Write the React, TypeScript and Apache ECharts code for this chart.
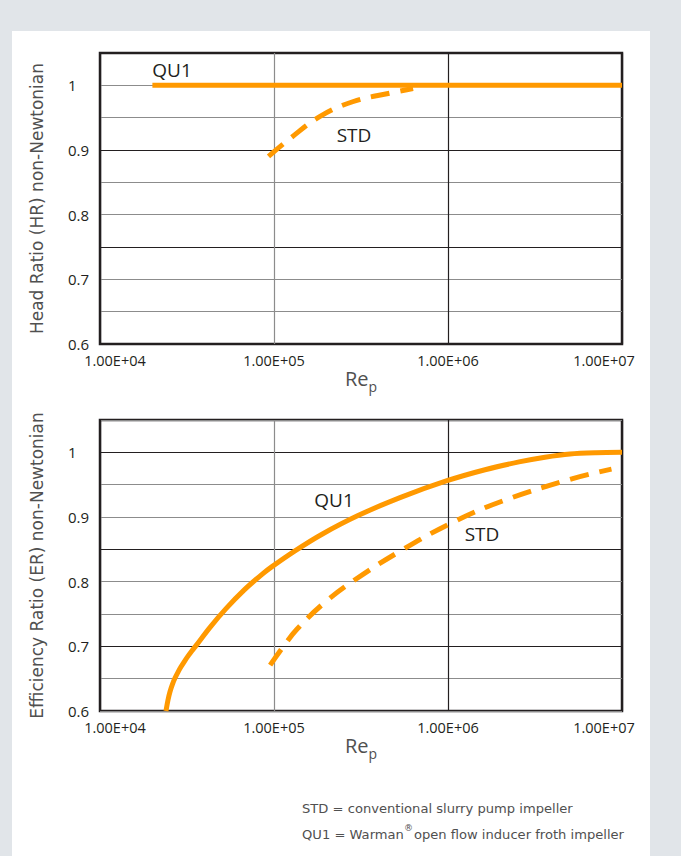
import React, { useEffect, useRef } from 'react';
import * as echarts from 'echarts';

// X ticks (log scale) and Y tick labels
const xTickExponents = [4, 5, 6, 7];
const yLabelValues = [0.6, 0.7, 0.8, 0.9, 1];

// Head ratio chart
const headQU1X = [2e4, 1e7];
const headQU1Y = [1, 1];
const headSTDX = [9.3e4, 1.24e5, 1.84e5, 2.86e5, 4.64e5, 6.3e5];
const headSTDY = [0.89, 0.918, 0.952, 0.975, 0.988, 0.995];

// Efficiency ratio chart
const effQU1X = [2.394e4, 2.459e4, 2.525e4, 2.61e4, 2.698e4, 2.808e4, 2.921e4, 3.059e4, 3.204e4, 3.379e4, 3.562e4, 4.288e4, 5.299e4, 6.724e4, 8.532e4, 9.739e4, 1.32e5, 1.888e5, 3.04e5, 5.298e5, 9.87e5, 1.632e6, 2.559e6, 3.61e6, 5.025e6, 7.09e6, 1e7];
const effQU1Y = [0.6, 0.6171, 0.6297, 0.6415, 0.6509, 0.6602, 0.6683, 0.6768, 0.6848, 0.6932, 0.7011, 0.7294, 0.7583, 0.7869, 0.8114, 0.8233, 0.8477, 0.8734, 0.9022, 0.93, 0.9561, 0.9731, 0.9852, 0.9925, 0.9975, 0.9994, 1.0];
const effSTDX = [9.5e4, 1.12e5, 1.35e5, 1.94e5, 2.92e5, 5.29e5, 1.05e6, 2.07e6, 5.15e6, 8.7e6];
const effSTDY = [0.671, 0.698, 0.726, 0.767, 0.803, 0.847, 0.891, 0.925, 0.959, 0.974];

const ORANGE = '#ff9900';
const DARK = '#231f20';
const GREY = '#8c8c8c';
const TEXT_GREY = '#505050';
const FONT = 'Open Sans';
const FONT2 = 'DejaVu Sans';

const zip = (xs: number[], ys: number[]) => xs.map((x, i) => [x, ys[i]]);

function makeX(gridIndex: number) {
  const labelFont = { fontFamily: FONT, fontSize: 14.5, color: DARK };
  return {
    type: 'log',
    logBase: 10,
    min: Math.pow(10, xTickExponents[0]),
    max: Math.pow(10, xTickExponents[xTickExponents.length - 1]),
    gridIndex,
    axisLine: { show: false },
    axisTick: { show: false },
    splitLine: { show: true, lineStyle: { color: [DARK, GREY, DARK, DARK], width: 1.2 } },
    axisLabel: {
      margin: 9,
      ...labelFont,
      formatter: (v: number) => {
        const e = Math.round(Math.log10(v));
        const s = '1.00E+' + String(e).padStart(2, '0');
        if (e === xTickExponents[0]) return '{f|' + s + '}';
        if (e === xTickExponents[xTickExponents.length - 1]) return '{l|' + s + '}';
        return '{m|' + s + '}';
      },
      rich: {
        f: { ...labelFont, padding: [0, 0, 0, 30] },
        m: { ...labelFont },
        l: { ...labelFont, padding: [0, 36, 0, 0] },
      },
    },
    name: '{a|Re}{b|p}',
    nameLocation: 'middle',
    nameGap: 24,
    nameTextStyle: {
      rich: {
        a: { fontFamily: FONT, fontSize: 20, color: TEXT_GREY, lineHeight: 20, verticalAlign: 'top' },
        b: { fontFamily: FONT, fontSize: 14, color: TEXT_GREY, lineHeight: 25, verticalAlign: 'bottom' },
      },
    },
  };
}

function makeY(gridIndex: number, name: string, colors: string[]) {
  return {
    type: 'value',
    min: 0.6,
    max: 1.05,
    interval: 0.05,
    gridIndex,
    axisLine: { show: false },
    axisTick: { show: false },
    splitLine: { show: true, lineStyle: { color: colors, width: 1.2 } },
    axisLabel: {
      margin: 32,
      align: 'left',
      fontFamily: FONT,
      fontSize: 15,
      color: DARK,
      formatter: (v: number) => {
        const hit = yLabelValues.find((t) => Math.abs(t - v) < 1e-6);
        if (hit === undefined) return '';
        return hit === 1 ? '1' : hit.toFixed(1);
      },
    },
    name,
    nameLocation: 'middle',
    nameRotate: 90,
    nameGap: 55,
    nameTextStyle: { fontFamily: FONT2, fontSize: 17, color: TEXT_GREY },
  };
}

export default function App() {
  const ref = useRef<HTMLDivElement>(null);
  useEffect(() => {
    const chart = echarts.init(ref.current!, null, { renderer: 'svg' });
    const lineBase = { type: 'line', showSymbol: false, symbol: 'none', silent: true };
    const noteRich = {
      t: { fontFamily: FONT2, fontSize: 13.1, fill: TEXT_GREY, lineHeight: 18, verticalAlign: 'bottom' },
      s: { fontFamily: FONT2, fontSize: 9, fill: TEXT_GREY, lineHeight: 9, verticalAlign: 'top', padding: [0, 1, 0, 0] },
    };
    const option: any = {
      animation: false,
      grid: [
        { left: 100, top: 53, width: 522, height: 291, show: true, borderColor: DARK, borderWidth: 2.5, backgroundColor: 'transparent' },
        { left: 100, top: 420, width: 522, height: 291, show: true, borderColor: DARK, borderWidth: 2.5, backgroundColor: 'transparent' },
      ],
      xAxis: [makeX(0), makeX(1)],
      yAxis: [
        makeY(0, 'Head Ratio (HR) non-Newtonian', [DARK, GREY, GREY]),
        makeY(1, 'Efficiency Ratio (ER) non-Newtonian', [GREY, GREY, DARK]),
      ],
      series: [
        { ...lineBase, name: 'QU1 head', xAxisIndex: 0, yAxisIndex: 0, data: zip(headQU1X, headQU1Y), lineStyle: { color: ORANGE, width: 5 } },
        { ...lineBase, name: 'STD head', xAxisIndex: 0, yAxisIndex: 0, smooth: 0.4, data: zip(headSTDX, headSTDY), lineStyle: { color: ORANGE, width: 5, type: [19, 11] } },
        { ...lineBase, name: 'QU1 eff', xAxisIndex: 1, yAxisIndex: 1, smooth: 0.3, data: zip(effQU1X, effQU1Y), lineStyle: { color: ORANGE, width: 5 } },
        { ...lineBase, name: 'STD eff', xAxisIndex: 1, yAxisIndex: 1, smooth: 0.4, data: zip(effSTDX, effSTDY), lineStyle: { color: ORANGE, width: 5, type: [19, 11] } },
      ],
      graphic: [
        { type: 'text', x: 172, y: 70, style: { text: 'QU1', fontFamily: FONT, fontSize: 19, fill: DARK, align: 'center', verticalAlign: 'middle' } },
        { type: 'text', x: 354, y: 135, style: { text: 'STD', fontFamily: FONT, fontSize: 19, fill: DARK, align: 'center', verticalAlign: 'middle' } },
        { type: 'text', x: 334, y: 500, style: { text: 'QU1', fontFamily: FONT, fontSize: 19, fill: DARK, align: 'center', verticalAlign: 'middle' } },
        { type: 'text', x: 482, y: 534, style: { text: 'STD', fontFamily: FONT, fontSize: 19, fill: DARK, align: 'center', verticalAlign: 'middle' } },
        {
          type: 'text', x: 302, y: 806,
          style: { text: '{t|STD = conventional slurry pump impeller}', fill: TEXT_GREY, align: 'left', verticalAlign: 'middle', rich: noteRich },
        },
        {
          type: 'text', x: 302, y: 832,
          style: { text: '{t|QU1 = Warman}{s|®}{t|open flow inducer froth impeller}', fill: TEXT_GREY, align: 'left', verticalAlign: 'middle', rich: noteRich },
        },
      ],
    };
    chart.setOption(option);
    return () => chart.dispose();
  }, []);
  return (
    <div style={{ position: 'fixed', left: 0, top: 0, width: 681, height: 856, background: '#e1e5e9' }}>
      <div style={{ position: 'absolute', left: 12, top: 31, width: 638, height: 825, background: '#ffffff' }} />
      <div ref={ref} style={{ position: 'absolute', left: 0, top: 0, width: 681, height: 856 }} />
    </div>
  );
}
